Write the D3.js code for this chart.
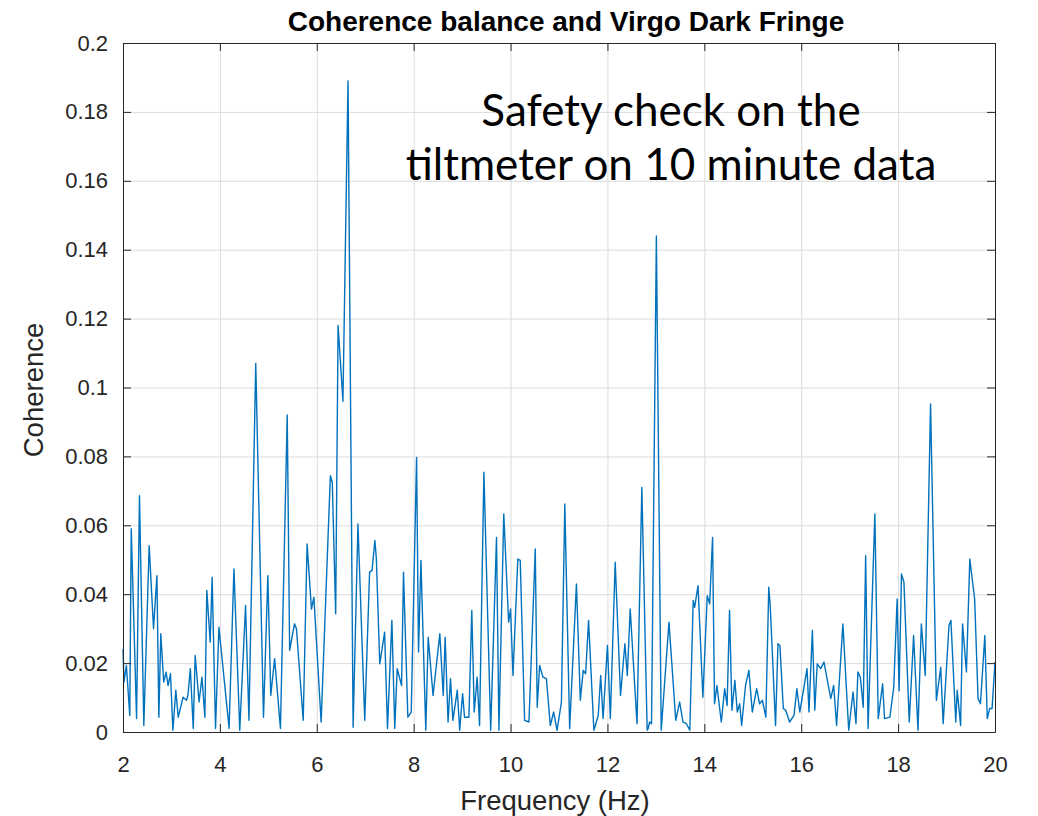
<!DOCTYPE html>
<html><head><meta charset="utf-8">
<script src="https://cdn.jsdelivr.net/npm/d3@7/dist/d3.min.js"></script>
<style>body{margin:0;background:#fff}svg{display:block}</style>
</head><body>
<svg id="chart" width="1038" height="816"></svg>
<script>
const freqHz = [2.00,2.02,2.07,2.14,2.17,2.28,2.34,2.43,2.54,2.63,2.70,2.74,2.78,2.84,2.89,2.93,2.98,3.03,3.09,3.14,3.24,3.31,3.34,3.39,3.45,3.49,3.57,3.63,3.69,3.73,3.80,3.84,3.91,3.98,4.19,4.29,4.41,4.53,4.60,4.74,4.90,4.99,5.05,5.13,5.25,5.39,5.44,5.54,
5.58,5.72,5.80,5.89,5.94,6.09,6.28,6.32,6.39,6.44,6.54,6.645,6.75,6.85,6.99,7.09,7.14,7.20,7.23,7.30,7.40,7.46,7.55,7.61,7.66,7.75,7.79,7.88,7.95,8.06,8.10,8.15,8.25,8.30,8.40,8.54,8.61,8.65,8.71,8.76,8.81,8.90,8.95,9.01,9.05,9.14,
9.20,9.25,9.31,9.36,9.45,9.59,9.71,9.76,9.86,9.96,10.00,10.05,10.15,10.20,10.29,10.38,10.51,10.55,10.60,10.67,10.74,10.82,10.89,10.96,11.05,11.12,11.22,11.36,11.44,11.50,11.55,11.61,11.72,11.81,11.86,11.91,12.00,12.06,12.16,12.27,12.36,12.41,12.47,12.61,12.71,12.82,
12.84,12.87,12.91,13.01,13.11,13.27,13.41,13.49,13.56,13.63,13.70,13.77,13.80,13.87,13.97,14.06,14.11,14.17,14.21,14.26,14.35,14.42,14.47,14.52,14.57,14.63,14.68,14.73,14.77,14.85,14.92,14.99,15.08,15.14,15.20,15.27,15.33,15.36,15.47,15.52,15.56,15.63,15.68,15.76,15.85,15.91,15.97,16.12,16.16,16.23,16.28,16.33,
16.40,16.47,16.61,16.67,16.73,16.86,16.98,17.07,17.13,17.17,17.22,17.28,17.33,17.38,17.52,17.59,17.68,17.72,17.83,17.91,17.98,18.02,18.07,18.12,18.23,18.32,18.41,18.48,18.56,18.67,18.79,18.88,18.93,19.05,19.09,19.19,19.22,19.29,19.33,19.41,19.48,19.58,19.65,19.70,19.79,19.84,19.89,19.94,20.00];
const coherence = [0.024,0.0145,0.0193,0.0048,0.059,0.0039,0.0686,0.0019,0.0541,0.0300,0.0454,0.0043,0.0285,0.0145,0.0174,0.0135,0.0169,0.0005,0.0121,0.0043,0.0101,0.0092,0.0106,0.0184,0.0010,0.0222,0.0087,0.0159,0.0043,0.0411,0.0261,0.0449,0.0010,0.0304,0.0010,0.0473,0.0005,0.0367,0.0034,0.107,0.0043,0.0454,0.0106,0.0213,0.0010,0.092,0.0237,0.0314,
0.030,0.0034,0.0546,0.0357,0.0391,0.0029,0.0744,0.0725,0.0343,0.118,0.096,0.189,0.0014,0.0604,0.0034,0.0464,0.0469,0.0556,0.0502,0.0198,0.0290,0.0010,0.0324,0.0010,0.0184,0.0135,0.0464,0.0043,0.0058,0.0797,0.0232,0.0498,0.0005,0.0275,0.0106,0.0285,0.0106,0.0275,0.0029,0.0155,0.0034,0.0121,0.0005,0.0111,0.0043,0.0043,
0.0353,0.0058,0.0159,0.0019,0.0754,0.0005,0.0565,0.0005,0.0633,0.0319,0.0357,0.0164,0.0502,0.0498,0.0034,0.0029,0.0531,0.0072,0.0193,0.0159,0.0155,0.0019,0.0058,0.0005,0.0087,0.0662,0.0010,0.0430,0.0092,0.0179,0.0169,0.0324,0.0005,0.0048,0.0164,0.0039,0.0251,0.0039,0.0493,0.0106,0.0256,0.0164,0.0357,0.0024,0.0710,0.0005,
0.0010,0.0029,0.0024,0.144,0.0005,0.0319,0.0034,0.0087,0.0029,0.0024,0.0005,0.0382,0.0362,0.0425,0.0101,0.0396,0.0372,0.0565,0.0082,0.0135,0.0029,0.0126,0.0077,0.0353,0.0063,0.0150,0.0058,0.0082,0.0019,0.0135,0.0179,0.0058,0.0126,0.0082,0.0092,0.0043,0.0420,0.0367,0.0019,0.0256,0.0251,0.0068,0.0063,0.0029,0.0048,0.0126,0.0058,0.0184,0.0058,0.0295,0.0063,0.0198,
0.0184,0.0203,0.0097,0.0135,0.0019,0.0314,0.0005,0.0116,0.0024,0.0174,0.0159,0.0072,0.0512,0.0010,0.0633,0.0039,0.0140,0.0039,0.0043,0.0130,0.0386,0.0120,0.0459,0.0435,0.0029,0.0280,0.0005,0.0314,0.0164,0.0952,0.0092,0.0188,0.0024,0.0309,0.0324,0.0029,0.0121,0.0019,0.0314,0.0174,0.0502,0.0386,0.0097,0.0082,0.0280,0.0039,0.0068,0.0068,0.0203];

const xTickValues = [2,4,6,8,10,12,14,16,18,20];
const yTickValues = [0,0.02,0.04,0.06,0.08,0.1,0.12,0.14,0.16,0.18,0.2];
const yTickLabels = ["0","0.02","0.04","0.06","0.08","0.1","0.12","0.14","0.16","0.18","0.2"];
const titleText = "Coherence balance and Virgo Dark Fringe";
const xLabelText = "Frequency (Hz)";
const yLabelText = "Coherence";
const noteLines = ["Safety check on the", "tiltmeter on 10 minute data"];

const svg = d3.select("#chart");
const L = 123, R = 995, T = 43, B = 732;
const x = d3.scaleLinear().domain([2, 20]).range([L, R]);
const y = d3.scaleLinear().domain([0, 0.2]).range([B, T]);
const font = "'Liberation Sans', Arial, Helvetica, sans-serif";
const tickCol = "#262626";

svg.append("rect").attr("x", L).attr("y", T).attr("width", R - L).attr("height", B - T).attr("fill", "#fff");

// grid
const gx = svg.append("g").attr("transform", `translate(0,${B})`)
  .call(d3.axisBottom(x).tickValues(xTickValues).tickSize(-(B - T)).tickFormat(""));
gx.select(".domain").remove();
gx.selectAll("line").attr("stroke", "#dcdcdc").attr("stroke-width", 1);
const gy = svg.append("g").attr("transform", `translate(${L},0)`)
  .call(d3.axisLeft(y).tickValues(yTickValues).tickSize(-(R - L)).tickFormat(""));
gy.select(".domain").remove();
gy.selectAll("line").attr("stroke", "#dcdcdc").attr("stroke-width", 1);

// line
const pts = freqHz.map((f, i) => [f, coherence[i]]);
svg.append("path").datum(pts)
  .attr("fill", "none").attr("stroke", "#0072BD").attr("stroke-width", 1.4)
  .attr("stroke-linejoin", "round")
  .attr("d", d3.line().x(d => x(d[0])).y(d => y(d[1])));

// axes with inward ticks
const tickLen = 8;
const ax = svg.append("g").attr("transform", `translate(0,${B})`)
  .call(d3.axisBottom(x).tickValues(xTickValues).tickSizeInner(-tickLen).tickSizeOuter(0).tickPadding(24));
const axT = svg.append("g").attr("transform", `translate(0,${T})`)
  .call(d3.axisTop(x).tickValues(xTickValues).tickSizeInner(-tickLen).tickSizeOuter(0).tickFormat(""));
const ay = svg.append("g").attr("transform", `translate(${L},0)`)
  .call(d3.axisLeft(y).tickValues(yTickValues).tickSizeInner(-tickLen).tickSizeOuter(0).tickPadding(15)
    .tickFormat((d, i) => yTickLabels[i]));
const ayR = svg.append("g").attr("transform", `translate(${R},0)`)
  .call(d3.axisRight(y).tickValues(yTickValues).tickSizeInner(-tickLen).tickSizeOuter(0).tickFormat(""));
[ax, axT, ay, ayR].forEach(g => {
  g.selectAll("line").attr("stroke", tickCol);
  g.select(".domain").attr("stroke", tickCol).attr("stroke-width", 1);
  g.selectAll("text").attr("font-family", font).attr("font-size", 22).attr("fill", tickCol);
});

// title & labels
svg.append("text").attr("x", 566).attr("y", 31).attr("text-anchor", "middle")
  .attr("font-family", font).attr("font-weight", "bold").attr("font-size", 28).attr("fill", "#000")
  .text(titleText);
svg.append("text").attr("x", 555).attr("y", 810).attr("text-anchor", "middle")
  .attr("font-family", font).attr("font-size", 27.5).attr("fill", tickCol).text(xLabelText);
svg.append("text").attr("transform", "translate(43,390) rotate(-90)").attr("text-anchor", "middle")
  .attr("font-family", font).attr("font-size", 27.5).attr("fill", tickCol).text(yLabelText);

// annotation
const noteY = [126, 180];
noteLines.forEach((t, i) => {
  svg.append("text").attr("x", 671).attr("y", noteY[i]).attr("text-anchor", "middle")
    .attr("font-family", "Lato, 'Open Sans', sans-serif").attr("font-size", 44).attr("fill", "#000")
    .text(t);
});
</script>
</body></html>
